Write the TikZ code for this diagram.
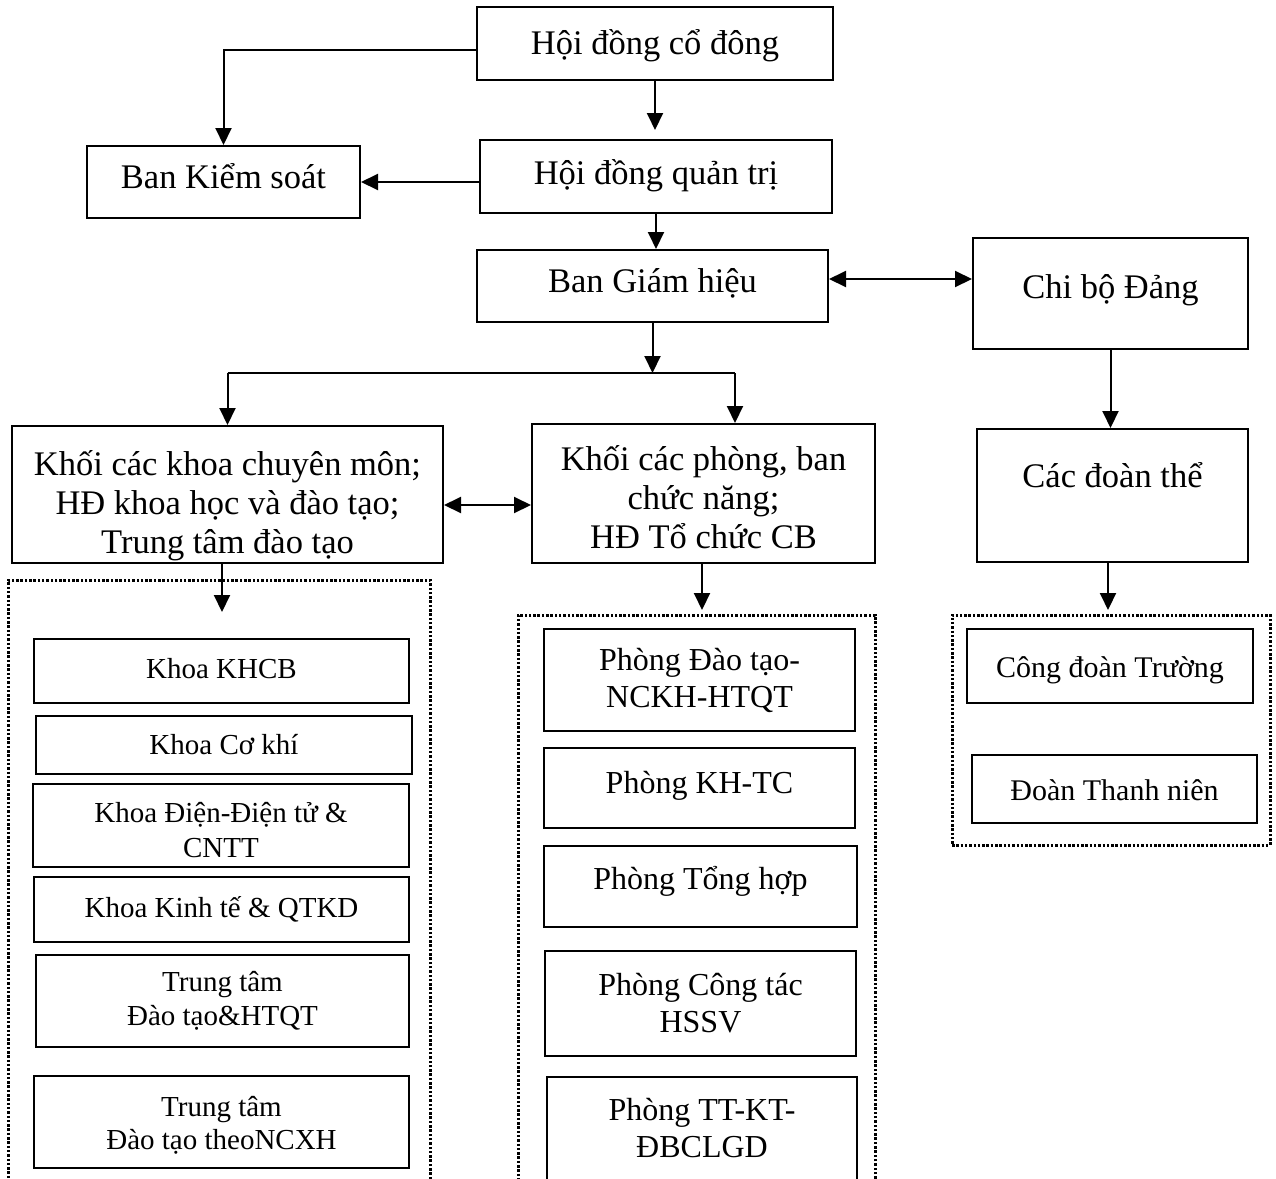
\documentclass[tikz,border=0pt]{standalone}
\usepackage{fontspec}
\setmainfont{Liberation Serif}
\usetikzlibrary{arrows.meta}
\tikzset{
  box/.style={draw, line width=2pt, inner sep=0pt, align=center},
  grp/.style={draw, line width=3pt, dash pattern=on 2.5pt off 1.8pt},
  big/.style={font=\fontsize{34.5}{39}\selectfont},
  mid/.style={font=\fontsize{32}{37}\selectfont},
  sml/.style={font=\fontsize{29}{34.5}\selectfont},
  rgt/.style={font=\fontsize{30}{34}\selectfont},
  bl/.code={\pgfmathsetmacro\blh{20+#1}\pgfmathsetmacro\bld{20-#1}%
    \edef\blset{\noexpand\tikzset{text height=\blh pt,text depth=\bld pt}}\blset},
  arr/.style={line width=2pt, -{Triangle[length=17pt,width=16pt]}},
  darr/.style={line width=2pt, {Triangle[length=17pt,width=16pt]}-{Triangle[length=17pt,width=16pt]}},
}
\newcommand\lowr[1]{\rule{0pt}{#1}}
\begin{document}
\begin{tikzpicture}[x=1pt,y=-1pt]
			\useasboundingbox (0,0) rectangle (1276,1178);
			\node[grp, minimum width=422pt, minimum height=620pt] (grpL) at (219,890) {};
			\node[grp, minimum width=357pt, minimum height=585pt] (grpM) at (696.5,907.5) {};
			\node[grp, minimum width=318pt, minimum height=230pt] (grpR) at (1111,730) {};
			\node[box, big, bl=11, minimum width=356pt, minimum height=73pt] (hdcd) at (655,43.5) {Hội đồng cổ đông};
			\node[box, big, bl=8, minimum width=352pt, minimum height=73pt] (hdqt) at (656,176.5) {Hội đồng quản trị};
			\node[box, big, bl=6, minimum width=273pt, minimum height=72pt] (bks) at (223.5,182) {Ban Kiểm soát};
			\node[box, big, bl=6, minimum width=351pt, minimum height=72pt] (bgh) at (652.5,286) {Ban Giám hiệu};
			\node[box, big, bl=5, minimum width=275pt, minimum height=111pt] (cbd) at (1110.5,293.5) {Chi bộ Đảng};
			\node[box, big, minimum width=431pt, minimum height=137pt] (kk) at (227.5,494.5) {\lowr{47pt}Khối các khoa chuyên môn;\\HĐ khoa học và đào tạo;\\Trung tâm đào tạo};
			\node[box, big, minimum width=343pt, minimum height=139pt] (kp) at (703.5,493.5) {\lowr{33pt}Khối các phòng, ban\\chức năng;\\HĐ Tổ chức CB};
			\node[box, big, bl=-8, minimum width=271pt, minimum height=133pt] (cdt) at (1112.5,495.5) {Các đoàn thể};
			\node[box, sml, bl=7, minimum width=375pt, minimum height=64pt] (kcb) at (221.5,671) {Khoa KHCB};
			\node[box, sml, bl=9, minimum width=376pt, minimum height=58pt] (kck) at (224,745) {Khoa Cơ khí};
			\node[box, sml, minimum width=376pt, minimum height=83pt] (kdt) at (221,825.5) {\lowr{29pt}Khoa Điện-Điện tử \&\\CNTT};
			\node[box, sml, bl=8, minimum width=375pt, minimum height=65pt] (kkt) at (221.5,909.5) {Khoa Kinh tế \& QTKD};
			\node[box, sml, minimum width=373pt, minimum height=92pt] (ttqt) at (222.5,1001) {Trung tâm\\Đào tạo\&HTQT};
			\node[box, font=\fontsize{29}{33}\selectfont, minimum width=375pt, minimum height=92pt] (ttxh) at (221.5,1122) {\lowr{26pt}Trung tâm\\Đào tạo theoNCXH};
			\node[box, mid, minimum width=311pt, minimum height=102pt] (pdt) at (699.5,680) {Phòng Đào tạo-\\NCKH-HTQT};
			\node[box, mid, bl=5, minimum width=311pt, minimum height=80pt] (ptc) at (699.5,788) {Phòng KH-TC};
			\node[box, mid, bl=2.5, minimum width=313pt, minimum height=81pt] (pth) at (700.5,886.5) {Phòng Tổng hợp};
			\node[box, mid, minimum width=311pt, minimum height=105pt] (pct) at (700.5,1003.5) {Phòng Công tác\\HSSV};
			\node[box, mid, text height=38pt, minimum width=310pt, minimum height=123pt] (pkt) at (702,1138.5) {Phòng TT-KT-\\ĐBCLGD};
			\node[box, rgt, bl=11, minimum width=286pt, minimum height=74pt] (cdtr) at (1110,666) {Công đoàn Trường};
			\node[box, rgt, bl=11, minimum width=285pt, minimum height=68pt] (dtn) at (1114.5,789) {Đoàn Thanh niên};
			\coordinate (jy) at (0,373);
			\coordinate (jR) at (735,373);
			\coordinate (jL) at (kk.north |- jy);
			\coordinate (inL) at (222,612);
			\coordinate (inM) at (702,610);
			\coordinate (inR) at (1108,610);
			\draw[arr] ([yshift=-6.5pt]hdcd.west) -| (bks.north);
			\draw[arr, shorten >=9pt] (hdcd.south) -- (hdcd.south |- hdqt.north);
			\draw[arr] (hdqt.west |- bks.east) -- (bks.east);
			\draw[arr] (hdqt.south) -- (hdqt.south |- bgh.north);
			\draw[darr] ([yshift=7pt]bgh.east) -- ([yshift=7pt]bgh.east -| cbd.west);
			\draw[arr] (bgh.south) -- (bgh.south |- jy);
			\draw[line width=2pt] (jL) -- (jR);
			\draw[arr] (jL) -- (kk.north);
			\draw[arr] (jR) -- (jR |- kp.north);
			\draw[darr] ([yshift=-10.5pt]kk.east) -- ([yshift=-10.5pt]kk.east -| kp.west);
			\draw[arr] (cbd.south) -- (cbd.south |- cdt.north);
			\draw[arr] (kk.south -| inL) -- (inL);
			\draw[arr] (kp.south -| inM) -- (inM);
			\draw[arr] (cdt.south -| inR) -- (inR);
		\end{tikzpicture}
\end{document}
